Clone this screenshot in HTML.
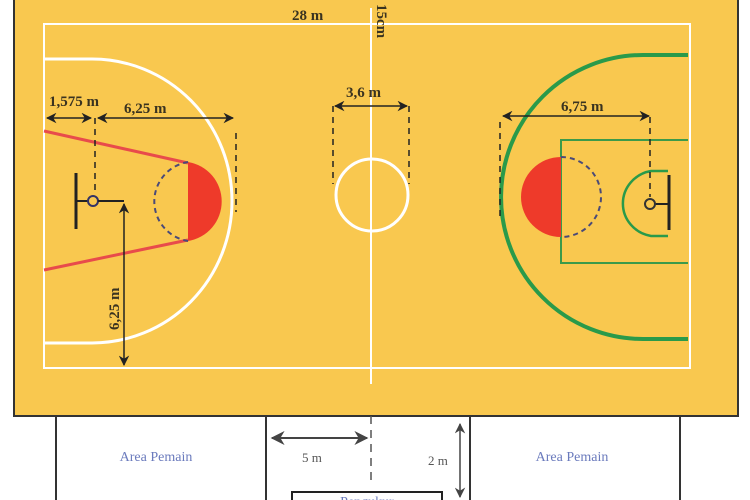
<!DOCTYPE html>
<html><head><meta charset="utf-8"><style>
html,body{margin:0;padding:0;background:#fff;width:750px;height:500px;overflow:hidden}
svg{display:block}
.lbl{font-family:"Liberation Serif",serif;font-size:15px;font-weight:bold;fill:#3a3320}
.area{font-family:"Liberation Serif",serif;font-size:14px;fill:#6b7bbd}
.small{font-family:"Liberation Serif",serif;font-size:13px;fill:#555}
</style></head><body>
<svg width="750" height="500" viewBox="0 0 750 500">
<defs>
<marker id="ar" viewBox="0 0 10 10" refX="9" refY="5" markerWidth="7" markerHeight="7" orient="auto-start-reverse"><path d="M0,0 L10,5 L0,10 L3,5 z" fill="#222"/></marker>
<marker id="ag" viewBox="0 0 10 10" refX="9" refY="5" markerWidth="7" markerHeight="7" orient="auto-start-reverse"><path d="M0,0 L10,5 L0,10 L3,5 z" fill="#444"/></marker>
</defs>
<rect x="14" y="-2" width="724" height="418" fill="#F9C84F" stroke="#333" stroke-width="2"/>
<rect x="44" y="24" width="646" height="344" fill="none" stroke="#fff" stroke-width="2"/>
<line x1="371" y1="8" x2="371" y2="384" stroke="#fff" stroke-width="2"/>
<circle cx="372" cy="195" r="36" fill="none" stroke="#fff" stroke-width="3"/>
<text class="lbl" x="292" y="20">28 m</text>
<text class="lbl" transform="translate(377,4) rotate(90)">15cm</text>

<!-- left half -->
<path d="M44,59 L92,59 A140,142 0 0 1 92,343 L44,343" fill="none" stroke="#fff" stroke-width="3"/>
<line x1="44" y1="131" x2="188" y2="163" stroke="#e84b4b" stroke-width="3"/>
<line x1="44" y1="270" x2="188" y2="240" stroke="#e84b4b" stroke-width="3"/>
<path d="M188,162 A40,40 0 0 1 188,241 Z" fill="#ee3a2a"/>
<path d="M188,162 A40,40 0 0 0 188,241" fill="none" stroke="#4a4a78" stroke-width="2" stroke-dasharray="5,4"/>
<line x1="76" y1="173" x2="76" y2="229" stroke="#222" stroke-width="3"/>
<line x1="76" y1="201" x2="88" y2="201" stroke="#222" stroke-width="2"/>
<circle cx="93" cy="201" r="5" fill="none" stroke="#333366" stroke-width="2"/>
<line x1="98" y1="201" x2="124" y2="201" stroke="#222" stroke-width="2"/>
<line x1="124" y1="204" x2="124" y2="365" stroke="#222" stroke-width="1.5" marker-start="url(#ar)" marker-end="url(#ar)"/>
<text class="lbl" transform="translate(119,330) rotate(-90)">6,25 m</text>
<line x1="95" y1="118" x2="95" y2="195" stroke="#222" stroke-width="1.5" stroke-dasharray="6,5"/>
<line x1="236" y1="133" x2="236" y2="212" stroke="#222" stroke-width="1.5" stroke-dasharray="6,5"/>
<line x1="47" y1="118" x2="91" y2="118" stroke="#222" stroke-width="1.5" marker-start="url(#ar)" marker-end="url(#ar)"/>
<line x1="98" y1="118" x2="233" y2="118" stroke="#222" stroke-width="1.5" marker-start="url(#ar)" marker-end="url(#ar)"/>
<text class="lbl" x="49" y="106">1,575 m</text>
<text class="lbl" x="124" y="113">6,25 m</text>

<!-- center -->
<line x1="333" y1="106" x2="333" y2="184" stroke="#222" stroke-width="1.5" stroke-dasharray="6,5"/>
<line x1="409" y1="106" x2="409" y2="184" stroke="#222" stroke-width="1.5" stroke-dasharray="6,5"/>
<line x1="335" y1="106" x2="407" y2="106" stroke="#222" stroke-width="1.5" marker-start="url(#ar)" marker-end="url(#ar)"/>
<text class="lbl" x="346" y="97">3,6 m</text>

<!-- right half -->
<path d="M688,55 L643,55 A142,142 0 0 0 643,339 L688,339" fill="none" stroke="#2a9a4a" stroke-width="4"/>
<path d="M688,140 L561,140 L561,263 L688,263" fill="none" stroke="#3c9a4a" stroke-width="2"/>
<path d="M561,157 A40,40 0 0 0 561,237 Z" fill="#ee3a2a"/>
<path d="M561,157 A40,40 0 0 1 561,237" fill="none" stroke="#4a4a78" stroke-width="2" stroke-dasharray="5,4"/>
<path d="M668,171 L651,171 A34,33 0 0 0 651,236 L668,236" fill="none" stroke="#2a9a4a" stroke-width="2.5"/>
<line x1="669" y1="175" x2="669" y2="230" stroke="#222" stroke-width="3"/>
<line x1="655" y1="204" x2="669" y2="204" stroke="#222" stroke-width="2"/>
<circle cx="650" cy="204" r="5" fill="none" stroke="#333" stroke-width="2"/>
<line x1="650" y1="117" x2="650" y2="197" stroke="#222" stroke-width="1.5" stroke-dasharray="6,5"/>
<line x1="500" y1="122" x2="500" y2="216" stroke="#222" stroke-width="1.5" stroke-dasharray="6,5"/>
<line x1="503" y1="116" x2="649" y2="116" stroke="#222" stroke-width="1.5" marker-start="url(#ar)" marker-end="url(#ar)"/>
<text class="lbl" x="561" y="111">6,75 m</text>

<!-- bottom bench area -->
<line x1="56" y1="416" x2="56" y2="500" stroke="#333" stroke-width="2"/>
<line x1="266" y1="416" x2="266" y2="500" stroke="#333" stroke-width="2"/>
<line x1="470" y1="416" x2="470" y2="500" stroke="#333" stroke-width="2"/>
<line x1="680" y1="416" x2="680" y2="500" stroke="#333" stroke-width="2"/>
<line x1="371" y1="416" x2="371" y2="480" stroke="#555" stroke-width="1.5" stroke-dasharray="8,6"/>
<text class="area" x="156" y="461" text-anchor="middle">Area Pemain</text>
<text class="area" x="572" y="461" text-anchor="middle">Area Pemain</text>
<line x1="272" y1="438" x2="367" y2="438" stroke="#444" stroke-width="2" marker-start="url(#ag)" marker-end="url(#ag)"/>
<text class="small" x="302" y="462">5 m</text>
<line x1="460" y1="424" x2="460" y2="497" stroke="#444" stroke-width="1.5" marker-start="url(#ag)" marker-end="url(#ag)"/>
<text class="small" x="428" y="465">2 m</text>
<rect x="292" y="492" width="150" height="12" fill="#fff" stroke="#222" stroke-width="2"/>
<text class="area" x="367" y="506" text-anchor="middle">Pengukur</text>
</svg>
</body></html>
